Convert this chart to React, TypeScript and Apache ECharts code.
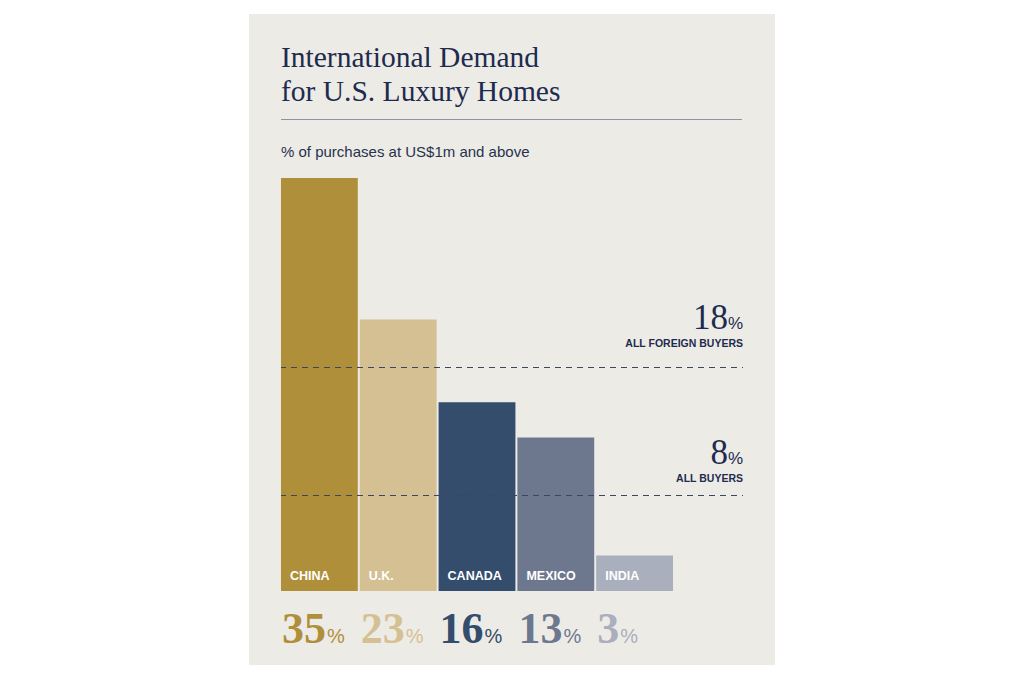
import React, { useEffect, useRef } from "react";
import * as echarts from "echarts";

const categories = ["CHINA", "U.K.", "CANADA", "MEXICO", "INDIA"];
const shares = [35, 23, 16, 13, 3];
const barColors = ["#b08f3b", "#d5c093", "#344d6d", "#6d788e", "#a9afbd"];
const refLabels = [18, 8];
const refNames = ["ALL FOREIGN BUYERS", "ALL BUYERS"];
// where the dashed reference lines sit in the picture (on the bar scale)
const refPositions = [19, 8.1];

const NAVY = "#1d2b4f";
const SERIF = "'Liberation Serif', 'DejaVu Serif', serif";
const SANS = "'Liberation Sans', Arial, sans-serif";
const labelGaps = [16, 9];

export default function App() {
  const ref = useRef<HTMLDivElement>(null);
  useEffect(() => {
    if (!ref.current) return;
    const chart = echarts.init(ref.current, null, { renderer: "svg" });
    const option = {
      animation: false,
      backgroundColor: "#ffffff",
      graphic: [
        { type: "rect", z: -10, shape: { x: 249, y: 14, width: 526, height: 651 }, style: { fill: "#edebe6" } },
        {
          type: "text",
          left: 281,
          top: 40,
          style: {
            text: "International Demand\nfor U.S. Luxury Homes",
            font: `29.5px ${SERIF}`,
            fill: NAVY,
            lineHeight: 34,
          },
        },
        { type: "line", shape: { x1: 281, y1: 119.5, x2: 742, y2: 119.5 }, style: { stroke: "#8b93a6", lineWidth: 1 } },
        {
          type: "text",
          left: 281,
          top: 144,
          style: { text: "% of purchases at US$1m and above", font: `15px ${SANS}`, fill: "#27324d" },
        },
      ],
      grid: [
        { left: 280, width: 394, top: 178, height: 413 },
        { left: 281, width: 462, top: 178, height: 413 },
      ],
      xAxis: [
        { type: "category", gridIndex: 0, data: categories, show: false },
        { type: "value", gridIndex: 1, min: 0, max: 1, show: false },
      ],
      yAxis: [
        { type: "value", gridIndex: 0, min: 0, max: 35, show: false, splitLine: { show: false } },
        { type: "value", gridIndex: 1, min: 0, max: 35, show: false, splitLine: { show: false } },
      ],
      series: [
        {
          type: "bar",
          xAxisIndex: 0,
          yAxisIndex: 0,
          barCategoryGap: "2.5%",
          data: shares.map((v, i) => ({ value: v, itemStyle: { color: barColors[i] } })),
          label: {
            show: true,
            position: "insideBottomLeft",
            distance: 9,
            formatter: "{b}",
            color: "#ffffff",
            fontFamily: SANS,
            fontWeight: "bold",
            fontSize: 12.5,
          },
          z: 2,
        },
        {
          type: "bar",
          xAxisIndex: 0,
          yAxisIndex: 0,
          barGap: "-100%",
          barCategoryGap: "2.5%",
          silent: true,
          itemStyle: { color: "rgba(0,0,0,0)" },
          data: shares.map((v, i) => ({
            value: v,
            label: {
              rich: {
                num: { color: barColors[i], fontFamily: SERIF, fontWeight: "bold", fontSize: 44, lineHeight: 48, verticalAlign: "bottom" },
                pct: { color: barColors[i], fontFamily: SANS, fontSize: 20, lineHeight: 48, verticalAlign: "bottom", padding: [0, 0, 4, 1] },
              },
            },
          })),
          label: {
            show: true,
            position: [0, "100%"],
            offset: [1, 11],
            align: "left",
            verticalAlign: "top",
            formatter: (p: any) => `{num|${p.value}}{pct|%}`,
          },
          z: 3,
        },
        {
          type: "line",
          xAxisIndex: 1,
          yAxisIndex: 1,
          data: [
            [0, 0],
            [1, 0],
          ],
          symbol: "none",
          lineStyle: { opacity: 0 },
          silent: true,
          markLine: {
            silent: true,
            symbol: ["none", "none"],
            lineStyle: { color: "#3b4663", width: 1, type: [6, 5], dashOffset: 1 },
            data: refPositions.map((pos, i) => ({
              yAxis: pos,
              label: {
                show: true,
                position: "insideEndTop",
                distance: [0, labelGaps[i]],
                align: "right",
                formatter: `{big|${refLabels[i]}}{pct|%}\n{sub|${refNames[i]}}`,
                rich: {
                  big: { fontFamily: SERIF, fontSize: 35, color: NAVY, lineHeight: 30, verticalAlign: "bottom" },
                  pct: { fontFamily: SANS, fontSize: 17, color: NAVY, lineHeight: 30, verticalAlign: "bottom", padding: [0, 0, 3, 0] },
                  sub: { fontFamily: SANS, fontSize: 10.5, fontWeight: "bold", color: NAVY, lineHeight: 16, align: "right" },
                },
              },
            })),
          },
        },
      ],
    };
    chart.setOption(option as any);
    return () => chart.dispose();
  }, []);
  return <div ref={ref} style={{ position: "fixed", left: 0, top: 0, width: 1024, height: 680 }} />;
}
